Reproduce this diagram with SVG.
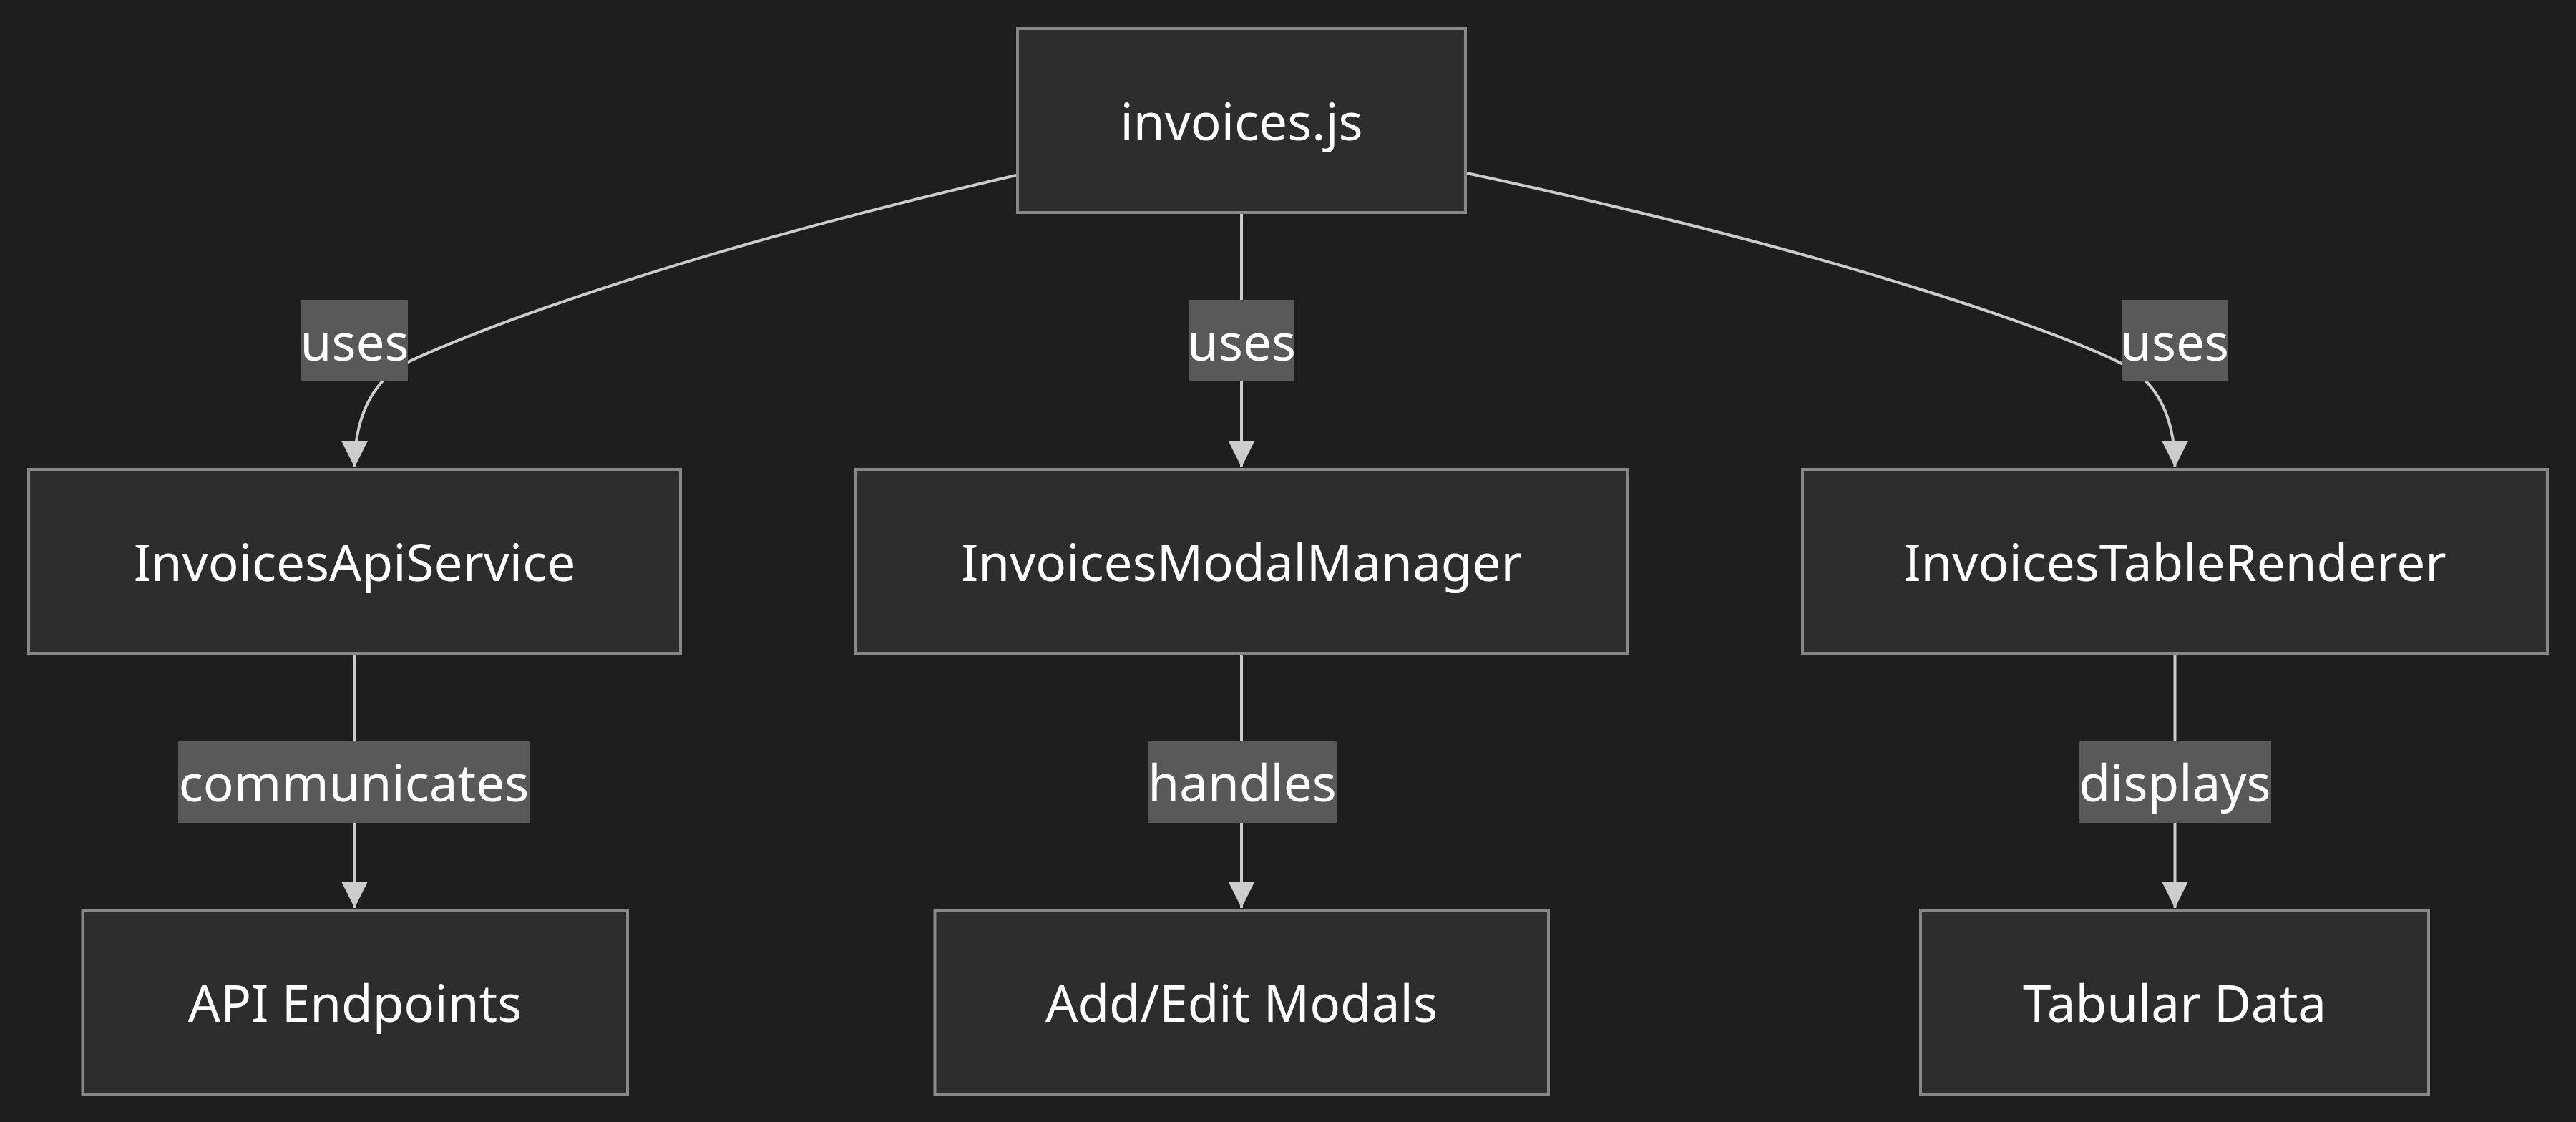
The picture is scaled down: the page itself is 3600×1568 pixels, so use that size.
<svg xmlns="http://www.w3.org/2000/svg" width="3600" height="1568" viewBox="0 0 3600 1568">
<style>
.node rect{fill:#2d2d2d;stroke:#888888;stroke-width:4}
.node text{fill:#ffffff;font-family:"Noto Sans","Open Sans",sans-serif;font-size:71px;text-anchor:middle}
.edge{fill:none;stroke:#cccccc;stroke-width:4}
.lbl rect{fill:#595959}
.lbl text{fill:#ffffff;font-family:"Noto Sans","Open Sans",sans-serif;font-size:71px;text-anchor:middle}
</style>
<defs>
<marker id="arrow" viewBox="0 0 10 10" refX="10" refY="5" markerUnits="userSpaceOnUse" markerWidth="37" markerHeight="37" orient="auto">
<path d="M0,0 L10,5 L0,10 z" fill="#cccccc"/>
</marker>
</defs>
<rect x="0" y="0" width="3600" height="1568" fill="#1e1e1e"/>
<g id="connectors">
<path class="edge" d="M1420,245 C909,363 644,471 570,506 C530,526 495.5,570 495.5,653" marker-end="url(#arrow)"/>
<path class="edge" d="M1735,299 L1735,653" marker-end="url(#arrow)"/>
<path class="edge" d="M2050,242 C2600,360 2885,468 2965,508 C3005,528 3039.5,570 3039.5,653" marker-end="url(#arrow)"/>
<path class="edge" d="M495.5,915 L495.5,1269" marker-end="url(#arrow)"/>
<path class="edge" d="M1735,914 L1735,1269" marker-end="url(#arrow)"/>
<path class="edge" d="M3039.5,914 L3039.5,1269" marker-end="url(#arrow)"/>
<g class="lbl">
<rect x="421" y="419" width="149" height="114"/><text x="495.5" y="504">uses</text>
<rect x="1661" y="419" width="148" height="114"/><text x="1735" y="504">uses</text>
<rect x="2965" y="419" width="148" height="114"/><text x="3039" y="504">uses</text>
<rect x="249" y="1035" width="491" height="115"/><text x="494.5" y="1120">communicates</text>
<rect x="1604" y="1035" width="264" height="115"/><text x="1736" y="1120">handles</text>
<rect x="2905" y="1035" width="269" height="115"/><text x="3039.5" y="1120">displays</text>
</g>
</g>
<g id="invoices_js" class="node">
<rect x="1422" y="40" width="626" height="257"/>
<text x="1735" y="196">invoices.js</text>
</g>
<g id="InvoicesApiService" class="node">
<rect x="40" y="656" width="911" height="257"/>
<text x="495.5" y="812">InvoicesApiService</text>
</g>
<g id="InvoicesModalManager" class="node">
<rect x="1195" y="656" width="1080" height="257"/>
<text x="1735" y="812">InvoicesModalManager</text>
</g>
<g id="InvoicesTableRenderer" class="node">
<rect x="2519" y="656" width="1041" height="257"/>
<text x="3039.5" y="812">InvoicesTableRenderer</text>
</g>
<g id="API_Endpoints" class="node">
<rect x="115.5" y="1272" width="761.5" height="257"/>
<text x="496" y="1428">API Endpoints</text>
</g>
<g id="Add_Edit_Modals" class="node">
<rect x="1306.5" y="1272" width="857.5" height="257"/>
<text x="1735" y="1428">Add/Edit Modals</text>
</g>
<g id="Tabular_Data" class="node">
<rect x="2684" y="1272" width="710" height="257"/>
<text x="3039" y="1428">Tabular Data</text>
</g>
</svg>
